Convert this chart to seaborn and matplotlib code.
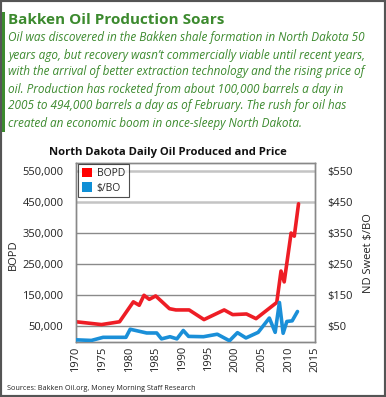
import matplotlib
matplotlib.use("Agg")
import matplotlib.pyplot as plt
import seaborn as sns
import pandas as pd
from matplotlib.patches import Patch, Rectangle

# BOPD (barrels of oil per day)
bopd_years = [1970, 1974.8, 1978.2, 1980.8, 1981.9, 1982.8, 1983.8, 1985.0, 1987.6,
              1988.8, 1991.3, 1994.1, 1997.9, 1999.5, 2002.1, 2003.9, 2007.8,
              2008.6, 2009.2, 2010.5, 2011.1, 2011.9]
bopd_values = [65000, 56000, 65000, 129000, 118000, 150000, 137000, 148000, 107000,
               103000, 103000, 72000, 103000, 88000, 90000, 75000, 127000,
               228000, 193000, 350000, 340000, 444000]

# ND Sweet price, $/BO
price_years = [1970, 1972.9, 1975.1, 1979.4, 1980.2, 1983.3, 1985.2, 1986.1, 1987.7,
               1989.0, 1990.2, 1991.2, 1994.0, 1996.6, 1998.9, 2000.4, 2002.0,
               2004.3, 2006.4, 2007.5, 2008.3, 2009.0, 2009.7, 2010.7, 2011.7]
price_values = [7, 5, 15, 15, 41, 29, 29, 10, 17,
                10, 37, 18, 17, 25, 4, 30, 13,
                31, 77, 31, 127, 28, 66, 68, 98]

left_ticks = [50000, 150000, 250000, 350000, 450000, 550000]
right_ticks = [50, 150, 250, 350, 450, 550]
year_ticks = list(range(1970, 2016, 5))

GREEN = "#3c8a2e"
RED = "#ee1d25"
BLUE = "#1a8fd8"
W, H = 386, 397

sns.set_style("white")
plt.rcParams["font.family"] = ["Open Sans", "DejaVu Sans"]

fig = plt.figure(figsize=(W / 100, H / 100), dpi=100)

def fx(x):
    return x / W

def fy(y):
    return 1 - y / H

# outer frame and green accent bar
fig.patches.append(Rectangle((0, 0), 1, 1, transform=fig.transFigure, fill=False,
                             edgecolor="#555555", linewidth=3))
fig.patches.append(Rectangle((fx(2), fy(132)), fx(3), (132 - 12) / H,
                             transform=fig.transFigure, color=GREEN, linewidth=0))

fig.text(fx(8), fy(20), "Bakken Oil Production Soars", color=GREEN,
         fontsize=11, fontweight="bold", va="center", ha="left")
body = ["Oil was discovered in the Bakken shale formation in North Dakota 50",
        "years ago, but recovery wasn\u2019t commercially viable until recent years,",
        "with the arrival of better extraction technology and the rising price of",
        "oil. Production has rocketed from about 100,000 barrels a day in",
        "2005 to 494,000 barrels a day as of February. The rush for oil has",
        "created an economic boom in once-sleepy North Dakota."]
for i, line in enumerate(body):
    fig.text(fx(8), fy(38 + i * 17), line, color=GREEN, fontsize=8.5,
             style="italic", va="center", ha="left")

fig.text(fx(168), fy(152), "North Dakota Daily Oil Produced and Price",
         fontsize=8.1, fontweight="bold", ha="center", va="center", color="#111111")
fig.text(fx(7), fy(388), "Sources: Bakken Oil.org, Money Morning Staff Research",
         fontsize=5.2, ha="left", va="center", color="#222222")
fig.text(fx(13), fy(255), "BOPD", rotation=90, fontsize=8, ha="center",
         va="center", color="#222222")
fig.text(fx(368), fy(253), "ND Sweet $/BO", rotation=90, fontsize=8, ha="center",
         va="center", color="#222222")

ax = fig.add_axes([fx(76), 1 - 342 / H, 239 / W, 179 / H])
ax2 = ax.twinx()

df_bopd = pd.DataFrame({"year": bopd_years, "BOPD": bopd_values})
df_price = pd.DataFrame({"year": price_years, "price": price_values})

for v in left_ticks:
    light = v >= 450000
    ax.axhline(v, color="#c4c4c4" if light else "#8a8a8a",
               linewidth=1.8 if light else 1.0, zorder=0)

sns.lineplot(data=df_bopd, x="year", y="BOPD", ax=ax, color=RED, linewidth=2.6,
             zorder=3)
sns.lineplot(data=df_price, x="year", y="price", ax=ax2, color=BLUE, linewidth=2.6,
             zorder=3)

ax.set_xlim(1970, 2015)
ax.set_ylim(0, 575000)
ax2.set_ylim(0, 575)
ax.set_xticks(year_ticks)
ax.set_xticklabels([str(y) for y in year_ticks], rotation=90, fontsize=8)
ax.set_yticks(left_ticks)
ax.set_yticklabels([f"{v:,}" for v in left_ticks], fontsize=8)
ax2.set_yticks(right_ticks)
ax2.set_yticklabels([f"${v}" for v in right_ticks], fontsize=8)
ax.set_xlabel("")
ax.set_ylabel("")
ax2.set_ylabel("")
for a in (ax, ax2):
    a.tick_params(length=0, pad=9, colors="#222222")
    for s in a.spines.values():
        s.set_color("#888888")
        s.set_linewidth(1.0)
ax.tick_params(axis="x", pad=3)

handles = [Patch(facecolor="#ff0000", edgecolor="none", label="BOPD"),
           Patch(facecolor="#0f8fd6", edgecolor="none", label="$/BO")]
leg = ax2.legend(handles=handles, loc="upper left", bbox_to_anchor=(0.01, 0.995),
                 fontsize=7.5, frameon=True, fancybox=False, handlelength=1.0,
                 handleheight=1.0, handletextpad=0.4, borderpad=0.35,
                 labelspacing=0.35, borderaxespad=0)
leg.get_frame().set_edgecolor("#222222")
leg.get_frame().set_linewidth(0.8)

fig.savefig("out.png", dpi=100)
